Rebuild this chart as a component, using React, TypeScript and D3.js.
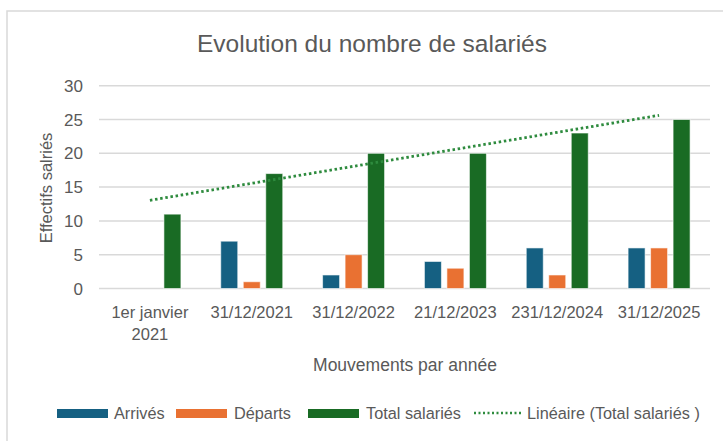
import React from "react";
import * as d3 from "d3";

const categories = ["1er janvier\n2021", "31/12/2021", "31/12/2022", "21/12/2023", "231/12/2024", "31/12/2025"];
const arrivees = [0, 7, 2, 4, 6, 6];
const departs = [0, 1, 5, 3, 2, 6];
const totalSalaries = [11, 17, 20, 20, 23, 25];
const yTicks = [0, 5, 10, 15, 20, 25, 30];
const seriesNames = ["Arrivés", "Départs", "Total salariés"];
const trendName = "Linéaire (Total salariés )";
const title = "Evolution du nombre de salariés";
const yTitle = "Effectifs salriés";
const xTitle = "Mouvements par année";

const W = 723, H = 441;
const colors = ["#156082", "#E97132", "#196B24"];
const textColor = "#595959";
const font = "'Liberation Sans', Arial, sans-serif";

export default function App() {
  const x0 = d3.scaleBand<string>().domain(categories).range([99, 710]).paddingInner(0).paddingOuter(0);
  const x1 = d3.scalePoint<string>().domain(seriesNames).range([-22.5, 22.5]);
  const y = d3.scaleLinear().domain([0, 30]).range([288.5, 85.7]);
  const barW = 17;
  const series = [arrivees, departs, totalSalaries];

  // Linear trendline (least squares) on Total salariés
  const n = totalSalaries.length;
  const xs = totalSalaries.map((_, i) => i + 1);
  const mx = d3.mean(xs)!;
  const my = d3.mean(totalSalaries)!;
  const slope = d3.sum(xs.map((xv, i) => (xv - mx) * (totalSalaries[i] - my))) / d3.sum(xs.map((xv) => (xv - mx) ** 2));
  const intercept = my - slope * mx;
  const cx = (i: number) => (x0(categories[i]) as number) + x0.bandwidth() / 2;
  const trendPts: [number, number][] = [0, n - 1].map((i) => [cx(i), y(intercept + slope * (i + 1))]);
  const line = d3.line<[number, number]>().x((d) => d[0]).y((d) => d[1]);

  const legendY = 413;
  const legendItems = [
    { type: "bar", color: colors[0], label: seriesNames[0], sx: 57, tx: 114 },
    { type: "bar", color: colors[1], label: seriesNames[1], sx: 176, tx: 234 },
    { type: "bar", color: colors[2], label: seriesNames[2], sx: 308, tx: 366 },
    { type: "line", color: colors[2], label: trendName, sx: 474, tx: 527 },
  ];

  return (
    <svg width={W} height={H} style={{ position: "absolute", left: 0, top: 0, background: "#fff" }} fontFamily={font}>
      <rect x={7} y={11} width={740} height={460} fill="#fff" stroke="#d9d9d9" strokeWidth={1.5} />
      <text x={372} y={52} textAnchor="middle" fontSize={24.5} fill={textColor}>{title}</text>

      {yTicks.map((t) => (
        <g key={t}>
          <line x1={99} x2={710} y1={y(t)} y2={y(t)} stroke="#d9d9d9" strokeWidth={1.5} />
          <text x={83} y={y(t)} dy="0.36em" textAnchor="end" fontSize={17} fill={textColor}>{t}</text>
        </g>
      ))}

      <text transform={`translate(52,188) rotate(-90)`} textAnchor="middle" fontSize={16.5} fill={textColor}>{yTitle}</text>

      {categories.map((c, ci) => (
        <g key={c}>
          {series.map((s, si) => {
            const v = s[ci];
            if (!v) return null;
            const bx = cx(ci) + (x1(seriesNames[si]) as number) - barW / 2;
            return (
              <rect key={si} x={bx} y={y(v)} width={barW} height={y(0) - y(v)} fill={colors[si]} stroke="#fff" strokeOpacity={0.6} strokeWidth={1} />
            );
          })}
          <text x={cx(ci)} y={318} textAnchor="middle" fontSize={16.5} fill={textColor}>
            {c.split("\n").map((ln, li) => (
              <tspan key={li} x={cx(ci)} dy={li === 0 ? 0 : 22}>{ln}</tspan>
            ))}
          </text>
        </g>
      ))}

      <path d={line(trendPts) as string} fill="none" stroke="#2E8B3E" strokeWidth={2.8} strokeDasharray="2.5 2.7" />

      <text x={405} y={371} textAnchor="middle" fontSize={17.5} fill={textColor}>{xTitle}</text>

      {legendItems.map((it) => (
        <g key={it.label}>
          {it.type === "bar" ? (
            <rect x={it.sx} y={legendY - 4} width={51} height={9} fill={it.color} />
          ) : (
            <line x1={it.sx} x2={it.sx + 47} y1={legendY} y2={legendY} stroke="#2E8B3E" strokeWidth={2.5} strokeDasharray="2 2.5" />
          )}
          <text x={it.tx} y={legendY} dy="0.36em" fontSize={16.3} fill={textColor}>{it.label}</text>
        </g>
      ))}
    </svg>
  );
}
